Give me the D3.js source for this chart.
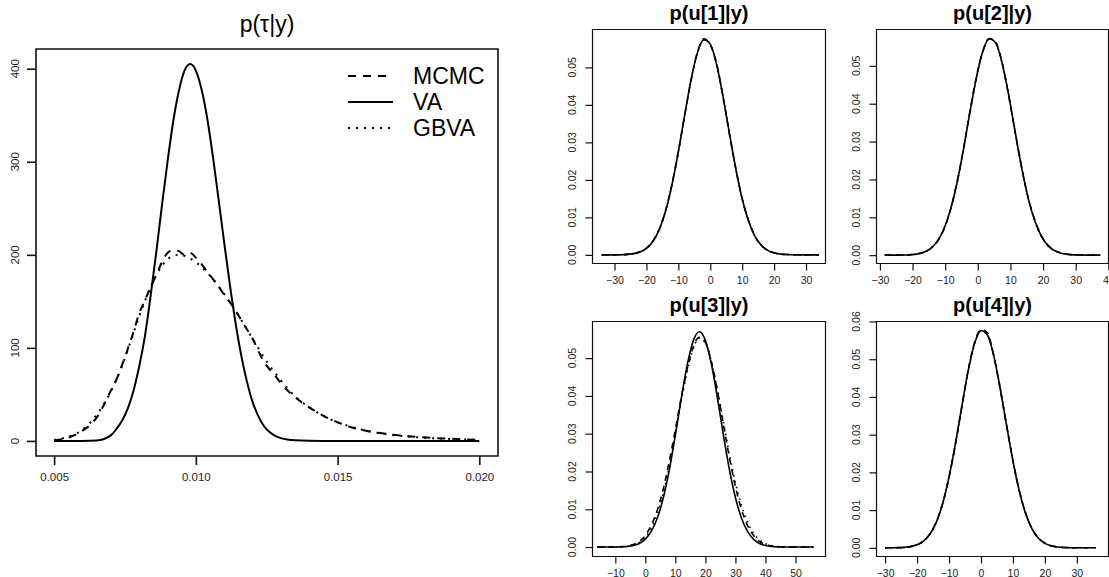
<!DOCTYPE html>
<html>
<head>
<meta charset="utf-8">
<script src="https://cdn.jsdelivr.net/npm/d3@7"></script>
<style>
  body { margin: 0; background: #fff; }
  svg { display: block; font-family: "Liberation Sans", Arial, sans-serif; }
</style>
</head>
<body>
<svg id="svg" width="1109" height="577"></svg>
<script>
// ---- p(tau|y) ----
const tauX = [0.0050, 0.0055, 0.0060, 0.0065, 0.0070,
  0.0072, 0.0074, 0.0076, 0.0078, 0.0080, 0.0082, 0.0084, 0.0086, 0.0088, 0.0090,
  0.0092, 0.0094, 0.0096, 0.0098, 0.0100, 0.0102, 0.0104, 0.0106, 0.0108, 0.0110,
  0.0112, 0.0114, 0.0116, 0.0118, 0.0120, 0.0122, 0.0124, 0.0126, 0.0128, 0.0130,
  0.0135, 0.0140, 0.0145, 0.0150, 0.0155, 0.0160, 0.0165, 0.0170, 0.0175, 0.0180,
  0.0185, 0.0190, 0.0195, 0.0200];
const tauMCMC = [0.5, 3.5, 11, 25, 54,
  66, 82, 99, 117, 137, 151, 165, 178, 192, 202,
  205, 204, 200, 202, 197, 190, 182, 174, 166, 157,
  149, 140, 130, 120, 110, 97, 85, 77, 70, 62,
  47, 36, 27, 20, 14.5, 11, 8.5, 6.5, 5, 4,
  3, 2.3, 1.7, 1.2];
const tauVA = [0, 0, 0, 0.5, 6,
  13, 22, 35, 54, 80, 112, 155, 202, 252, 300,
  343, 376, 398, 405, 398, 378, 347, 306, 260, 213,
  168, 127, 92, 64, 42, 27, 16, 9.5, 5.5, 3,
  0.6, 0.1, 0, 0, 0, 0, 0, 0, 0, 0,
  0, 0, 0, 0];
const tauGBVA = [1, 4.5, 12, 28, 53,
  66, 81, 98, 116, 134, 150, 165, 178, 188, 195,
  199, 200, 199, 196, 192, 187, 181, 174, 166, 158,
  149, 140, 130, 120, 110, 100, 90, 81, 73, 65,
  48, 36, 27, 20, 15, 11, 8.3, 6.2, 4.7, 3.5,
  2.7, 2, 1.5, 1.1];
const tauXTicks = [0.005, 0.010, 0.015, 0.020];
const tauYTicks = [0, 100, 200, 300, 400];

// ---- p(u[1]|y) ----
const u1X = [-34, -32, -30, -28, -26, -24, -22, -20, -18, -16, -14, -12, -10, -8, -6, -4, -2,
  0, 2, 4, 6, 8, 10, 12, 14, 16, 18, 20, 22, 24, 26, 28, 30, 32, 34];
const u1MCMC = [0, 0.00001, 0.00002, 0.00005, 0.00014, 0.00035, 0.00082, 0.00178, 0.00362, 0.0068,
  0.0118, 0.0188, 0.0276, 0.0373, 0.0466, 0.0541, 0.0576, 0.0560, 0.0509, 0.0421, 0.0322, 0.0230,
  0.0150, 0.0091, 0.00502, 0.00258, 0.00122, 0.00055, 0.00023, 0.0001, 0.00004, 0.00002, 0.00001, 0, 0];
const u1VA = [0, 0, 0.00001, 0.00004, 0.00013, 0.00033, 0.00079, 0.00175, 0.00358, 0.00674,
  0.0117, 0.0187, 0.0275, 0.0374, 0.0468, 0.0540, 0.0574, 0.0562, 0.0507, 0.0422, 0.0324, 0.0229,
  0.0149, 0.0090, 0.00496, 0.00253, 0.00119, 0.00052, 0.00021, 0.00008, 0.00003, 0.00001, 0, 0, 0];
const u1GBVA = [0, 0, 0.00001, 0.00004, 0.00013, 0.00034, 0.0008, 0.00176, 0.0036, 0.00676,
  0.0117, 0.0187, 0.0274, 0.0373, 0.0467, 0.0539, 0.0573, 0.0562, 0.0508, 0.0423, 0.0325, 0.0230,
  0.0150, 0.0091, 0.005, 0.00255, 0.0012, 0.00053, 0.00021, 0.00008, 0.00003, 0.00001, 0, 0, 0];

// ---- p(u[2]|y) ----
const u2X = [-28.5, -26.5, -24.5, -22.5, -20.5, -18.5, -16.5, -14.5, -12.5, -10.5, -8.5, -6.5,
  -4.5, -2.5, -0.5, 1.5, 3.5, 5.5, 7.5, 9.5, 11.5, 13.5, 15.5, 17.5, 19.5, 21.5, 23.5, 25.5,
  27.5, 29.5, 31.5, 33.5, 35.5, 37.5];
const u2MCMC = [0, 0.00001, 0.00002, 0.00005, 0.00015, 0.00036, 0.0008, 0.00172, 0.0035, 0.0066,
  0.0116, 0.0187, 0.0276, 0.0376, 0.0468, 0.0537, 0.0571, 0.0562, 0.0507, 0.0419, 0.0321, 0.0229,
  0.0150, 0.0092, 0.0051, 0.0026, 0.00124, 0.00056, 0.00024, 0.0001, 0.00004, 0.00002, 0.00001, 0];
const u2VA = [0, 0, 0.00001, 0.00004, 0.00013, 0.00033, 0.00078, 0.00174, 0.00357, 0.00672,
  0.0117, 0.0186, 0.0274, 0.0373, 0.0466, 0.0538, 0.0572, 0.0560, 0.0505, 0.0421, 0.0323, 0.0228,
  0.0148, 0.0090, 0.00494, 0.00252, 0.00119, 0.00052, 0.00021, 0.00008, 0.00003, 0.00001, 0, 0];
const u2GBVA = [0, 0, 0.00001, 0.00004, 0.00013, 0.00034, 0.00079, 0.00175, 0.00358, 0.00673,
  0.0117, 0.0186, 0.0274, 0.0372, 0.0466, 0.0538, 0.0572, 0.0561, 0.0506, 0.0422, 0.0324, 0.0229,
  0.0149, 0.0090, 0.00496, 0.00253, 0.0012, 0.00052, 0.00021, 0.00008, 0.00003, 0.00001, 0, 0];

// ---- p(u[3]|y) ----
const u3X = [-16, -14, -12, -10, -8, -6, -4, -2, 0, 2, 4, 6, 8, 10, 12, 14, 16, 18, 20,
  22, 24, 26, 28, 30, 32, 34, 36, 38, 40, 42, 44, 46, 48, 50, 52, 54, 56];
const u3MCMC = [0, 0, 0.00002, 0.00005, 0.00012, 0.0003, 0.0007, 0.0015, 0.0031, 0.0058,
  0.0098, 0.0155, 0.0228, 0.0311, 0.0398, 0.0473, 0.0531, 0.0555, 0.0541, 0.0490, 0.0414,
  0.0325, 0.0237, 0.0160, 0.0100, 0.0058, 0.0031, 0.0015, 0.0007, 0.0003, 0.00012, 0.00005,
  0.00002, 0, 0, 0, 0];
const u3VA = [0, 0, 0, 0.00002, 0.00006, 0.00016, 0.00041, 0.00096, 0.0021, 0.0042,
  0.0077, 0.0131, 0.0205, 0.0296, 0.0395, 0.0484, 0.0547, 0.0570, 0.0547, 0.0484, 0.0395,
  0.0296, 0.0205, 0.0131, 0.0077, 0.0042, 0.0021, 0.00096, 0.00041, 0.00016, 0.00006, 0.00002,
  0, 0, 0, 0, 0];
const u3GBVA = [0, 0, 0, 0.00002, 0.00007, 0.0002, 0.0005, 0.0012, 0.0026, 0.0050,
  0.0088, 0.0143, 0.0215, 0.0300, 0.0388, 0.0467, 0.0527, 0.0553, 0.0540, 0.0490, 0.0416,
  0.0330, 0.0245, 0.0170, 0.0110, 0.0066, 0.0037, 0.0019, 0.0009, 0.0004, 0.00015, 0.00005,
  0.00002, 0, 0, 0, 0];

// ---- p(u[4]|y) ----
const u4X = [-30, -28, -26, -24, -22, -20, -18, -16, -14, -12, -10, -8, -6, -4, -2, 0,
  2, 4, 6, 8, 10, 12, 14, 16, 18, 20, 22, 24, 26, 28, 30, 32, 34, 36];
const u4MCMC = [0, 0.00001, 0.00003, 0.00012, 0.00032, 0.0008, 0.0018, 0.0037, 0.0069, 0.0118,
  0.0187, 0.0274, 0.0374, 0.0471, 0.0545, 0.0578, 0.0570, 0.0508, 0.0421, 0.0324, 0.0231, 0.0151,
  0.0091, 0.0050, 0.00258, 0.00122, 0.00054, 0.00022, 0.00009, 0.00004, 0.00002, 0.00001, 0, 0];
const u4VA = [0, 0.00001, 0.00004, 0.00013, 0.00033, 0.00079, 0.00176, 0.00359, 0.00676, 0.0117,
  0.0188, 0.0276, 0.0375, 0.0470, 0.0542, 0.0576, 0.0564, 0.0509, 0.0423, 0.0325, 0.0230, 0.0150,
  0.0090, 0.00498, 0.00254, 0.00119, 0.00052, 0.00021, 0.00008, 0.00003, 0.00001, 0, 0, 0];
const u4GBVA = [0, 0.00001, 0.00004, 0.00013, 0.00033, 0.0008, 0.00177, 0.0036, 0.00677, 0.0117,
  0.0188, 0.0276, 0.0374, 0.0469, 0.0541, 0.0575, 0.0564, 0.0510, 0.0424, 0.0326, 0.0231, 0.0150,
  0.0091, 0.005, 0.00255, 0.0012, 0.00053, 0.00021, 0.00008, 0.00003, 0.00001, 0, 0, 0];

const legendNames = ['MCMC', 'VA', 'GBVA'];

let svg = d3.select('#svg');

function drawPanel(p) {
  let x = d3.scaleLinear().domain(p.xDomain).range([p.left, p.right]);
  let y = d3.scaleLinear().domain(p.yDomain).range([p.bottom, p.top]);
  let g = svg.append('g');

  p.series.forEach(s => {
    let line = d3.line()
      .x((d, i) => x(p.xs[i]))
      .y(d => y(d))
      .curve(d3.curveMonotoneX);
    g.append('path')
      .datum(s.values)
      .attr('d', line)
      .attr('fill', 'none')
      .attr('stroke', '#000')
      .attr('stroke-width', p.lw)
      .attr('stroke-dasharray', s.dash)
      .attr('stroke-linecap', 'butt');
  });

  // x axis
  let xa = g.append('g')
    .attr('transform', `translate(0,${p.bottom})`)
    .call(d3.axisBottom(x).tickValues(p.xTicks).tickSize(p.tickLen).tickPadding(p.xPad).tickFormat(p.xFmt));
  xa.select('.domain').remove();
  xa.selectAll('text').style('font-size', p.tickFont + 'px').attr('fill', '#222');

  // y axis, labels turned like R
  let ya = g.append('g')
    .attr('transform', `translate(${p.left},0)`)
    .call(d3.axisLeft(y).tickValues(p.yTicks).tickSize(p.tickLen).tickFormat(''));
  ya.select('.domain').remove();
  g.selectAll('.tick line').attr('stroke', '#111').attr('stroke-width', p.frameW);
  g.selectAll('.ylab')
    .data(p.yTicks)
    .join('text')
    .attr('transform', d => `translate(${p.left - p.yLabOff},${y(d)}) rotate(-90)`)
    .attr('dy', '0.35em')
    .attr('text-anchor', 'middle')
    .style('font-size', p.tickFont + 'px')
    .attr('fill', '#222')
    .text(p.yFmt);

  // title
  g.append('text')
    .attr('x', (p.left + p.right) / 2).attr('y', p.titleY)
    .attr('text-anchor', 'middle')
    .style('font-size', p.titleFont + 'px')
    .style('font-weight', p.titleBold ? 'bold' : 'normal')
    .text(p.title);
}

// plot frame, drawn last
function drawFrame(p) {
  svg.append('path')
    .attr('d', `M${p.left},${p.top}H${p.right}V${p.bottom}H${p.left}Z`)
    .attr('fill', 'none')
    .attr('stroke', '#111')
    .attr('stroke-width', p.frameW);
}

const dashLeft = { MCMC: '8,7', VA: null, GBVA: '2,6' };
const dashRight = { MCMC: '6,5', VA: null, GBVA: '1.5,4.5' };

const tauPanel = {
  id: 'tau', left: 36, right: 498, top: 49, bottom: 456,
  xDomain: [0.00436, 0.02066], yDomain: [-16.2, 421.2],
  xTicks: tauXTicks, yTicks: tauYTicks,
  xFmt: d3.format('.3f'), yFmt: d => d,
  tickLen: 9, xPad: 8, yLabOff: 21, tickFont: 11.5,
  title: 'p(τ|y)', titleY: 32, titleFont: 23, titleBold: false,
  lw: 2, frameW: 1.6, xs: tauX,
  series: [
    { values: tauMCMC, dash: dashLeft.MCMC },
    { values: tauVA, dash: dashLeft.VA },
    { values: tauGBVA, dash: dashLeft.GBVA }
  ]
};
drawPanel(tauPanel);

const smallPanels = [
  { id: 'u1', title: 'p(u[1]|y)', left: 592.5, right: 825.5, top: 29.5, bottom: 263.5,
    xDomain: [-36.9, 36.1], yDomain: [-0.0023, 0.0601],
    xTicks: [-30, -20, -10, 0, 10, 20, 30], yTicks: [0, 0.01, 0.02, 0.03, 0.04, 0.05],
    xs: u1X, vals: [u1MCMC, u1VA, u1GBVA] },
  { id: 'u2', title: 'p(u[2]|y)', left: 876.5, right: 1108.5, top: 29.5, bottom: 263.5,
    xDomain: [-31.05, 40.05], yDomain: [-0.0022, 0.0596],
    xTicks: [-30, -20, -10, 0, 10, 20, 30, 40], yTicks: [0, 0.01, 0.02, 0.03, 0.04, 0.05],
    xs: u2X, vals: [u2MCMC, u2VA, u2GBVA] },
  { id: 'u3', title: 'p(u[3]|y)', left: 592.5, right: 825.5, top: 321.5, bottom: 556.5,
    xDomain: [-17.6, 60], yDomain: [-0.0025, 0.0597],
    xTicks: [-10, 0, 10, 20, 30, 40, 50], yTicks: [0, 0.01, 0.02, 0.03, 0.04, 0.05],
    xs: u3X, vals: [u3MCMC, u3VA, u3GBVA] },
  { id: 'u4', title: 'p(u[4]|y)', left: 876.5, right: 1108.5, top: 321.5, bottom: 556.5,
    xDomain: [-32.7, 39.9], yDomain: [-0.0023, 0.06],
    xTicks: [-30, -20, -10, 0, 10, 20, 30], yTicks: [0, 0.01, 0.02, 0.03, 0.04, 0.05, 0.06],
    xs: u4X, vals: [u4MCMC, u4VA, u4GBVA] }
].map(sp => Object.assign(sp, {
  xFmt: d3.format('d'), yFmt: d3.format('.2f'),
  tickLen: 7, xPad: 6, yLabOff: 20, tickFont: 10.5,
  titleY: sp.top - 10, titleFont: 20, titleBold: true,
  lw: 1.6, frameW: 1.2,
  series: legendNames.map((n, i) => ({ values: sp.vals[i], dash: dashRight[n] }))
}));

smallPanels.forEach(sp => drawPanel(sp));

// legend for the left panel (no box, like R bty="n")
let legend = svg.append('g');
legendNames.forEach((n, i) => {
  let ly = 76 + i * 26;
  legend.append('line')
    .attr('x1', 348).attr('x2', 393).attr('y1', ly).attr('y2', ly)
    .attr('stroke', '#000').attr('stroke-width', 2)
    .attr('stroke-dasharray', dashLeft[n]);
  legend.append('text')
    .attr('x', 413).attr('y', ly).attr('dy', '0.35em')
    .style('font-size', '23px')
    .text(n);
});

[tauPanel].concat(smallPanels).forEach(p => drawFrame(p));
</script>
</body>
</html>
